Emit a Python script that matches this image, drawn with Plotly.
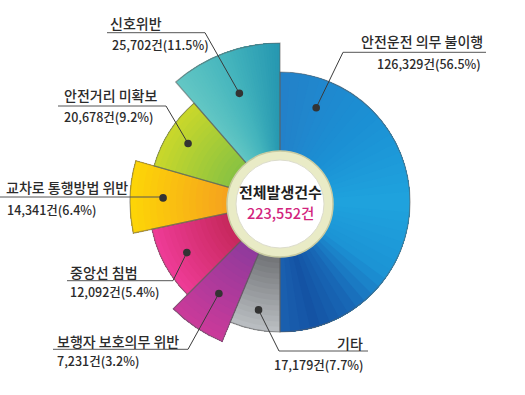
import math
import plotly.graph_objects as go

# ---------------- data ----------------
categories = ["안전운전 의무 불이행", "기타", "보행자 보호의무 위반", "중앙선 침범",
              "교차로 통행방법 위반", "안전거리 미확보", "신호위반"]
counts = [126329, 17179, 7231, 12092, 14341, 20678, 25702]
percents = ["56.5", "7.7", "3.2", "5.4", "6.4", "9.2", "11.5"]
total_label = "223,552건"
center_title = "전체발생건수"

# infographic geometry (as drawn): angular span (deg, clockwise from 12 o'clock) and outer radius (px)
spans = [180, 22.5, 22.5, 33, 28, 33, 41]
radii = [130, 130, 151, 131, 150, 131, 159]

# ---------------- styles ----------------
W, H = 525, 395
CX, CY = 280, 202          # pie centre in pixels
S = 170                    # polar half-size in pixels (radial range 0..S)
R_IN = 45

grads = [
    ("angular", [(0, "#2381c9"), (0.25, "#1b90d4"), (0.5, "#1fa3de"), (0.7, "#1c93d5"),
                 (0.82, "#1867b5"), (0.92, "#1453a4"), (1, "#1a5fae")]),
    ("radial", [(0, "#696b6e"), (1, "#b9bdc1")]),
    ("radial", [(0, "#8b3a9c"), (1, "#c93a9a")]),
    ("radial", [(0, "#c22656"), (1, "#ee3b96")]),
    ("radial", [(0, "#f5a01f"), (1, "#fdd407")]),
    ("radial", [(0, "#85c143"), (1, "#c8d72b")]),
    ("angular", [(0, "#63c7c4"), (0.5, "#45b5bd"), (1, "#2698b1")]),
]

dot_theta_override = {0: 21}
dot_r = [101, 110, 110, 106, 117, 109, 116]

# label layout in pixels: (name_x, name_y, count_x, count_y, anchor, ul_x0, ul_x1, ul_y)
labels = [
    (485, 40.5, 483, 64, "right", 343, 486, 52.3),
    (365, 342.5, 365, 364, "right", 279, 368, 351),
    (55, 340.5, 55, 360.5, "left", 53, 188, 349.3),
    (68, 272, 68, 291.5, "left", 67, 173, 280.7),
    (4, 187, 5, 209, "left", 0, 163, 197),
    (62, 95.5, 62, 116.5, "left", 58, 166, 106),
    (108, 23.5, 110, 45, "left", 107, 205, 32.7),
]
leader_ends = [(343, 52.3), (279, 351), (188, 349.3), (173, 280.7), None, (166, 106), (205, 32.7)]


def hex2rgb(h):
    h = h.lstrip("#")
    return tuple(int(h[i:i + 2], 16) for i in (0, 2, 4))


def interp(stops, t):
    for (f0, c0), (f1, c1) in zip(stops[:-1], stops[1:]):
        if t <= f1 or (f1 == stops[-1][0]):
            u = 0 if f1 == f0 else min(max((t - f0) / (f1 - f0), 0), 1)
            a, b = hex2rgb(c0), hex2rgb(c1)
            return "rgb(%d,%d,%d)" % tuple(round(a[i] + (b[i] - a[i]) * u) for i in range(3))
    return stops[-1][1]


def px(x):
    return x / W


def py(y):
    return 1 - y / H


def polar_px(theta, r):
    t = math.radians(theta)
    return CX + r * math.sin(t), CY - r * math.cos(t)


starts = []
acc = 0
for s in spans:
    starts.append(acc)
    acc += s
mids = [a + s / 2 for a, s in zip(starts, spans)]

fig = go.Figure()

for i in range(len(categories)):
    mode, stops = grads[i]
    a0, w, R = starts[i], spans[i], radii[i]
    th, wd, rr, bs, cols = [], [], [], [], []
    if mode == "radial":
        N = 16
        for k in range(N):
            rk = R_IN + (R - R_IN) * k / N
            th.append(a0 + w / 2)
            wd.append(w)
            bs.append(rk)
            rr.append(R - rk)
            cols.append(interp(stops, k / (N - 1)))
    else:
        M = 40
        for k in range(M):
            ak = a0 + w * k / M
            th.append((ak + a0 + w) / 2)
            wd.append(a0 + w - ak)
            bs.append(0)
            rr.append(R)
            cols.append(interp(stops, k / (M - 1)))
    fig.add_trace(go.Barpolar(r=rr, base=bs, theta=th, width=wd,
                              marker=dict(color=cols, line=dict(width=0)),
                              hoverinfo="skip", showlegend=False))

# outline / shadow edge
fig.add_trace(go.Barpolar(r=radii, theta=mids, width=spans,
                          marker=dict(color="rgba(0,0,0,0)",
                                      line=dict(color="rgba(95,95,95,0.55)", width=1.2)),
                          hoverinfo="skip", showlegend=False))

fig.update_layout(
    width=W, height=H, autosize=False,
    margin=dict(l=0, r=0, t=0, b=0),
    paper_bgcolor="white", plot_bgcolor="white",
    showlegend=False,
    polar=dict(
        domain=dict(x=[(CX - S) / W, (CX + S) / W], y=[py(CY + S), py(CY - S)]),
        bgcolor="rgba(0,0,0,0)",
        radialaxis=dict(range=[0, S], visible=False, showgrid=False),
        angularaxis=dict(rotation=90, direction="clockwise", visible=False, showgrid=False),
    ),
)

shapes = []
ccx, ccy = 280, 204
for r, fill, lc, lw in [(53, "#e9ebc6", "#c9cba2", 1.5), (44, "white", "#dcdccc", 1)]:
    shapes.append(dict(type="circle", xref="paper", yref="paper",
                       x0=px(ccx - r), x1=px(ccx + r), y0=py(ccy + r), y1=py(ccy - r),
                       fillcolor=fill, line=dict(color=lc, width=lw), layer="above"))

annotations = []
name_font = dict(family="Noto Sans CJK KR", size=14, color="#2b2b2b", weight=500)
count_font = dict(family="Noto Sans CJK KR", size=12.5, color="#2b2b2b", weight=500)

for i in range(len(categories)):
    nx, ny, cx_, cy_, anc, u0, u1, uy = labels[i]
    theta = dot_theta_override.get(i, mids[i])
    dx, dy = polar_px(theta, dot_r[i])
    shapes.append(dict(type="line", xref="paper", yref="paper",
                       x0=px(u0), x1=px(u1), y0=py(uy), y1=py(uy),
                       line=dict(color="#555555", width=1), layer="above"))
    if leader_ends[i] is not None:
        lx, ly = leader_ends[i]
        shapes.append(dict(type="line", xref="paper", yref="paper",
                           x0=px(lx), x1=px(dx), y0=py(ly), y1=py(dy),
                           line=dict(color="#3a3a3a", width=1), layer="above"))
    rd = 3.8
    shapes.append(dict(type="circle", xref="paper", yref="paper",
                       x0=px(dx - rd), x1=px(dx + rd), y0=py(dy + rd), y1=py(dy - rd),
                       fillcolor="#333333", line=dict(width=0), layer="above"))
    annotations.append(dict(x=px(nx), y=py(ny), xref="paper", yref="paper",
                            text=categories[i], showarrow=False, xanchor=anc, yanchor="middle",
                            font=name_font))
    annotations.append(dict(x=px(cx_), y=py(cy_), xref="paper", yref="paper",
                            text=f"{counts[i]:,}건({percents[i]}%)", showarrow=False,
                            xanchor=anc, yanchor="middle", font=count_font))

annotations.append(dict(x=px(280), y=py(192), xref="paper", yref="paper", text=center_title,
                        showarrow=False, xanchor="center", yanchor="middle",
                        font=dict(family="Noto Sans CJK KR", size=15, color="#1e1e1e", weight=700)))
annotations.append(dict(x=px(280), y=py(212), xref="paper", yref="paper", text=total_label,
                        showarrow=False, xanchor="center", yanchor="middle",
                        font=dict(family="Noto Sans CJK KR", size=14.5, color="#d2237d", weight=500)))

fig.update_layout(shapes=shapes, annotations=annotations)
fig.write_html("out.html", config={"displayModeBar": False},
               post_script="document.body.style.margin='0';document.body.style.overflow='hidden';")
